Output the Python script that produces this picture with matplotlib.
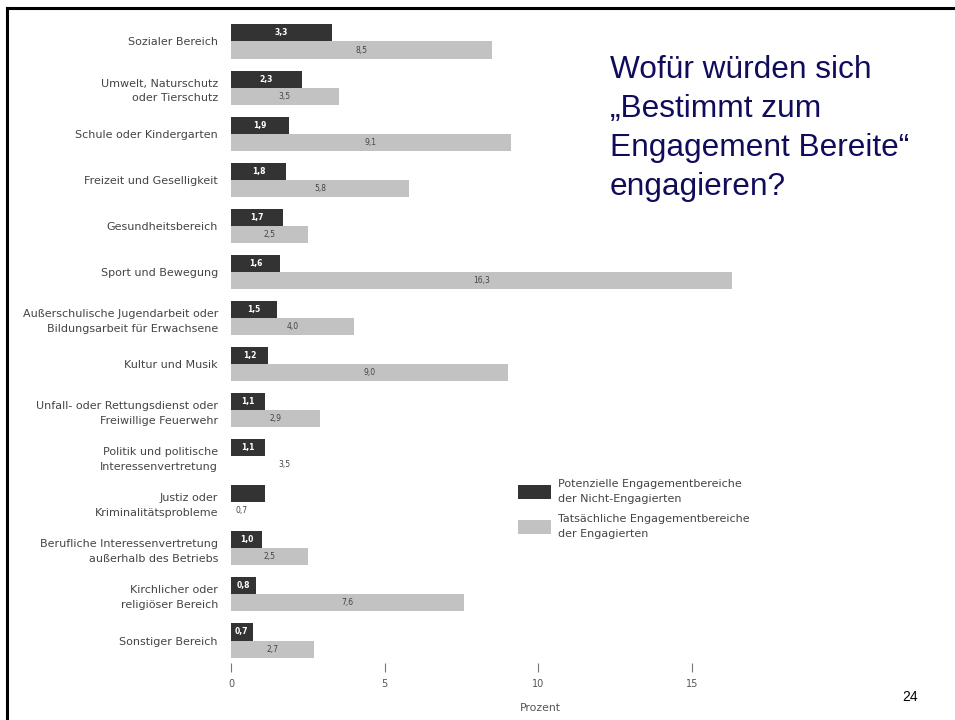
import numpy as np
import matplotlib.pyplot as plt
from matplotlib.lines import Line2D

plt.rcParams['font.family'] = ['DejaVu Sans']

# Daten (Prozent)
bereiche = ["Sozialer Bereich",
            "Umwelt, Naturschutz\noder Tierschutz",
            "Schule oder Kindergarten",
            "Freizeit und Geselligkeit",
            "Gesundheitsbereich",
            "Sport und Bewegung",
            "Außerschulische Jugendarbeit oder\nBildungsarbeit für Erwachsene",
            "Kultur und Musik",
            "Unfall- oder Rettungsdienst oder\nFreiwillige Feuerwehr",
            "Politik und politische\nInteressenvertretung",
            "Justiz oder\nKriminalitätsprobleme",
            "Berufliche Interessenvertretung\naußerhalb des Betriebs",
            "Kirchlicher oder\nreligiöser Bereich",
            "Sonstiger Bereich"]
potenziell = [3.3, 2.3, 1.9, 1.8, 1.7, 1.6, 1.5, 1.2, 1.1, 1.1, 1.1, 1.0, 0.8, 0.7]
tatsaechlich = [8.5, 3.5, 9.1, 5.8, 2.5, 16.3, 4.0, 9.0, 2.9, 3.5, 0.7, 2.5, 7.6, 2.7]
ohne_balken = [9, 10]   # helle Balken fehlen in der Vorlage
ohne_wert = [10]        # dunkler Balken ohne Zahl

dunkel = '#333333'
hell = '#c2c2c2'

fig = plt.figure(figsize=(9.55, 7.2), dpi=100)
ax = fig.add_axes([231 / 955, 1 - 663 / 720, 510 / 955, 643 / 720])

y = np.arange(len(bereiche))
h = 0.37
b1 = ax.barh(y - h / 2, potenziell, height=h, color=dunkel,
             label="Potenzielle Engagementbereiche\nder Nicht-Engagierten")
b2 = ax.barh(y + h / 2, tatsaechlich, height=h, color=hell,
             label="Tatsächliche Engagementbereiche\nder Engagierten")
for i in ohne_balken:
    b2[i].set_visible(False)

def fmt(v):
    return f"{v:.1f}".replace('.', ',')

for i, v in enumerate(potenziell):
    if i in ohne_wert:
        continue
    ax.text(v / 2, i - h / 2, fmt(v), ha='center', va='center',
            fontsize=5.5, color='white', fontweight='bold')
for i, v in enumerate(tatsaechlich):
    ax.text(v / 2, i + h / 2, fmt(v), ha='center', va='center',
            fontsize=5.5, color='#444444')

ax.set_xlim(0, 16.6)
ax.set_ylim(13 + (663 - 640.5) / 46.08, -(41.5 - 20) / 46.08)
ax.set_yticks(y)
ax.set_yticklabels(bereiche, fontsize=8, color='#444444', linespacing=1.6)
ax.tick_params(axis='y', length=0, pad=9.4)
ax.set_xticks([0, 5, 10, 15])
ax.set_xticklabels(['0', '5', '10', '15'], fontsize=7, color='#555555')
ax.tick_params(axis='x', length=6.5, width=0.8, color='#777777', pad=5)
for s in ax.spines.values():
    s.set_visible(False)
ax.set_xlabel("Prozent", fontsize=7.8, color='#555555')
ax.xaxis.set_label_coords((540 - 231) / 510, -0.062)

leg = fig.legend(handles=[b1, b2], loc='upper left',
                 bbox_to_anchor=(518 / 955, 1 - 479 / 720),
                 frameon=False, fontsize=8, handlelength=3.0, handleheight=1.6,
                 handletextpad=0.63, labelspacing=0.87, borderpad=0,
                 borderaxespad=0, labelcolor='#444444')
for t in leg.get_texts():
    t.set_linespacing(1.65)

fig.text(610 / 955, 1 - 55 / 720,
         "Wofür würden sich\n„Bestimmt zum\nEngagement Bereite“\nengagieren?",
         ha='left', va='top', fontsize=22.8, color='#100c5c',
         family='Liberation Sans', linespacing=1.385)

fig.text(910 / 955, 1 - 697 / 720, "24", ha='center', va='center',
         fontsize=10, family='Liberation Sans', color='black')

# Folienrahmen
fig.add_artist(Line2D([7 / 955, 1], [1 - 8 / 720, 1 - 8 / 720],
                      transform=fig.transFigure, color='black', lw=2.2))
fig.add_artist(Line2D([7 / 955, 7 / 955], [1 - 8 / 720, 0],
                      transform=fig.transFigure, color='black', lw=2.2))

fig.savefig("out.png", dpi=100)
